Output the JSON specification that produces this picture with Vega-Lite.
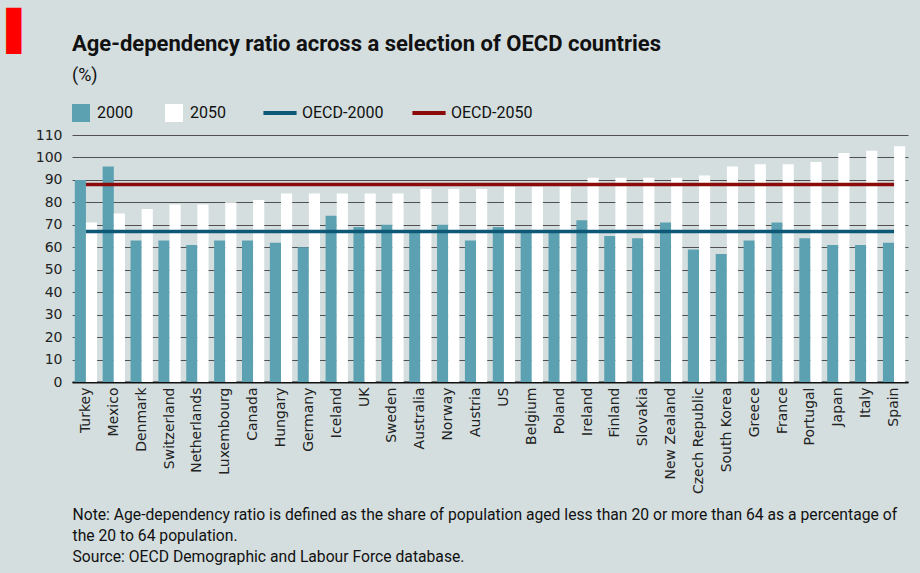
{
  "$schema": "https://vega.github.io/schema/vega-lite/v6.json",
  "width": 836,
  "height": 247,
  "autosize": {"type": "none"},
  "padding": {"left": 72, "top": 135, "right": 12, "bottom": 191},
  "background": "#d4dedf",
  "title": {
    "text": "Age-dependency ratio across a selection of OECD countries",
    "subtitle": "(%)",
    "anchor": "start",
    "frame": "group",
    "orient": "top",
    "offset": -74,
    "font": "Roboto",
    "fontSize": 22,
    "fontWeight": "bold",
    "color": "#111111",
    "subtitleFont": "Roboto",
    "subtitleFontSize": 18,
    "subtitleColor": "#111111",
    "subtitlePadding": 11
  },
  "config": {
    "view": {"stroke": null},
    "axis": {"labelColor": "#222222", "titleColor": "#111111"}
  },
  "datasets": {
    "bars": [
      {"country": "Turkey", "year": "2000", "value": 90},
      {"country": "Turkey", "year": "2050", "value": 71},
      {"country": "Mexico", "year": "2000", "value": 96},
      {"country": "Mexico", "year": "2050", "value": 75},
      {"country": "Denmark", "year": "2000", "value": 63},
      {"country": "Denmark", "year": "2050", "value": 77},
      {"country": "Switzerland", "year": "2000", "value": 63},
      {"country": "Switzerland", "year": "2050", "value": 79},
      {"country": "Netherlands", "year": "2000", "value": 61},
      {"country": "Netherlands", "year": "2050", "value": 79},
      {"country": "Luxembourg", "year": "2000", "value": 63},
      {"country": "Luxembourg", "year": "2050", "value": 80},
      {"country": "Canada", "year": "2000", "value": 63},
      {"country": "Canada", "year": "2050", "value": 81},
      {"country": "Hungary", "year": "2000", "value": 62},
      {"country": "Hungary", "year": "2050", "value": 84},
      {"country": "Germany", "year": "2000", "value": 60},
      {"country": "Germany", "year": "2050", "value": 84},
      {"country": "Iceland", "year": "2000", "value": 74},
      {"country": "Iceland", "year": "2050", "value": 84},
      {"country": "UK", "year": "2000", "value": 69},
      {"country": "UK", "year": "2050", "value": 84},
      {"country": "Sweden", "year": "2000", "value": 70},
      {"country": "Sweden", "year": "2050", "value": 84},
      {"country": "Australia", "year": "2000", "value": 67},
      {"country": "Australia", "year": "2050", "value": 86},
      {"country": "Norway", "year": "2000", "value": 70},
      {"country": "Norway", "year": "2050", "value": 86},
      {"country": "Austria", "year": "2000", "value": 63},
      {"country": "Austria", "year": "2050", "value": 86},
      {"country": "US", "year": "2000", "value": 69},
      {"country": "US", "year": "2050", "value": 87},
      {"country": "Belgium", "year": "2000", "value": 67},
      {"country": "Belgium", "year": "2050", "value": 87},
      {"country": "Poland", "year": "2000", "value": 67},
      {"country": "Poland", "year": "2050", "value": 87},
      {"country": "Ireland", "year": "2000", "value": 72},
      {"country": "Ireland", "year": "2050", "value": 91},
      {"country": "Finland", "year": "2000", "value": 65},
      {"country": "Finland", "year": "2050", "value": 91},
      {"country": "Slovakia", "year": "2000", "value": 64},
      {"country": "Slovakia", "year": "2050", "value": 91},
      {"country": "New Zealand", "year": "2000", "value": 71},
      {"country": "New Zealand", "year": "2050", "value": 91},
      {"country": "Czech Republic", "year": "2000", "value": 59},
      {"country": "Czech Republic", "year": "2050", "value": 92},
      {"country": "South Korea", "year": "2000", "value": 57},
      {"country": "South Korea", "year": "2050", "value": 96},
      {"country": "Greece", "year": "2000", "value": 63},
      {"country": "Greece", "year": "2050", "value": 97},
      {"country": "France", "year": "2000", "value": 71},
      {"country": "France", "year": "2050", "value": 97},
      {"country": "Portugal", "year": "2000", "value": 64},
      {"country": "Portugal", "year": "2050", "value": 98},
      {"country": "Japan", "year": "2000", "value": 61},
      {"country": "Japan", "year": "2050", "value": 102},
      {"country": "Italy", "year": "2000", "value": 61},
      {"country": "Italy", "year": "2050", "value": 103},
      {"country": "Spain", "year": "2000", "value": 62},
      {"country": "Spain", "year": "2050", "value": 105}
    ],
    "oecd": [
      {"country": "Turkey", "series": "OECD-2000", "value": 67},
      {"country": "Spain", "series": "OECD-2000", "value": 67},
      {"country": "Turkey", "series": "OECD-2050", "value": 88},
      {"country": "Spain", "series": "OECD-2050", "value": 88}
    ]
  },
  "encoding": {
    "x": {
      "field": "country",
      "type": "nominal",
      "sort": ["Turkey", "Mexico", "Denmark", "Switzerland", "Netherlands", "Luxembourg", "Canada", "Hungary", "Germany", "Iceland", "UK", "Sweden", "Australia", "Norway", "Austria", "US", "Belgium", "Poland", "Ireland", "Finland", "Slovakia", "New Zealand", "Czech Republic", "South Korea", "Greece", "France", "Portugal", "Japan", "Italy", "Spain"],
      "scale": {"paddingInner": 0.2, "paddingOuter": 0.1},
      "axis": {
        "labelAngle": -90,
        "labelAlign": "right",
        "labelBaseline": "middle",
        "labelFont": "DejaVu Sans",
        "labelFontSize": 14,
        "labelPadding": 5,
        "labelOverlap": false,
        "ticks": false,
        "domain": true,
        "domainColor": "#111111",
        "domainWidth": 2,
        "zindex": 0,
        "title": [
          "Note: Age-dependency ratio is defined as the share of population aged less than 20 or more than 64 as a percentage of",
          "the 20 to 64 population.",
          "Source: OECD Demographic and Labour Force database."
        ],
        "titleFont": "Roboto",
        "titleFontSize": 15.7,
        "titleFontWeight": "normal",
        "titleAnchor": "start",
        "titleAlign": "left",
        "titleBaseline": "top",
        "titleLineHeight": 21,
        "titleX": 0,
        "titleY": 125
      }
    },
    "y": {
      "field": "value",
      "type": "quantitative",
      "scale": {"domain": [0, 110], "nice": false},
      "axis": {
        "values": [0, 10, 20, 30, 40, 50, 60, 70, 80, 90, 100, 110],
        "labelOverlap": false,
        "domain": false,
        "ticks": false,
        "grid": true,
        "gridColor": "#505050",
        "gridWidth": 1,
        "labelFont": "DejaVu Sans",
        "labelFontSize": 14,
        "labelPadding": 10,
        "title": "▌",
        "titleFont": "DejaVu Sans",
        "titleFontSize": 39,
        "titleFontWeight": "normal",
        "titleColor": "#ff0000",
        "titleAngle": 0,
        "titleAlign": "left",
        "titleBaseline": "top",
        "titleX": -66,
        "titleY": -123
      }
    }
  },
  "layer": [
    {
      "data": {"name": "bars"},
      "mark": {"type": "bar", "strokeWidth": 0},
      "encoding": {
        "xOffset": {"field": "year", "type": "nominal", "sort": ["2000", "2050"]},
        "fill": {
          "field": "year",
          "type": "nominal",
          "scale": {"domain": ["2000", "2050"], "range": ["#5ba1b1", "#ffffff"]},
          "legend": {
            "orient": "none",
            "legendX": 0,
            "legendY": -31,
            "direction": "horizontal",
            "title": null,
            "symbolType": "square",
            "symbolSize": 324,
            "symbolStrokeWidth": 0,
            "labelFont": "Roboto",
            "labelFontSize": 16,
            "labelColor": "#111111",
            "labelOffset": 7,
            "columnPadding": 32
          }
        }
      }
    },
    {
      "data": {"name": "oecd"},
      "mark": {"type": "line", "strokeWidth": 3.5},
      "encoding": {
        "stroke": {
          "field": "series",
          "type": "nominal",
          "scale": {"domain": ["OECD-2000", "OECD-2050"], "range": ["#0d5876", "#8b0a0a"]},
          "legend": {
            "orient": "none",
            "legendX": 189,
            "legendY": -41,
            "direction": "horizontal",
            "title": null,
            "symbolType": "stroke",
            "symbolSize": 1100,
            "symbolStrokeWidth": 4,
            "labelFont": "Roboto",
            "labelFontSize": 16,
            "labelColor": "#111111",
            "labelOffset": 3,
            "columnPadding": 20
          }
        }
      }
    }
  ]
}
